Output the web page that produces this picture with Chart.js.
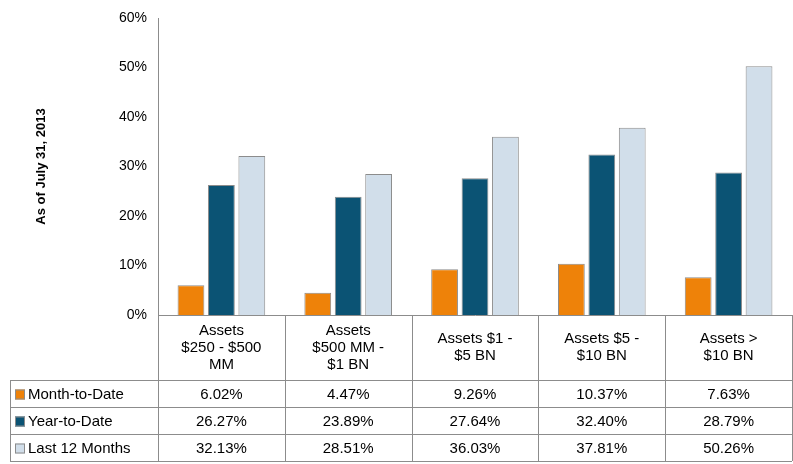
<!DOCTYPE html>
<html><head><meta charset="utf-8">
<script src="https://cdn.jsdelivr.net/npm/chart.js@4"></script>
<style>html,body{margin:0;padding:0;background:#fff}#wrap{width:793px;height:464px}</style>
</head><body><div id="wrap"><canvas id="c"></canvas></div>
<script>
const categories = [['Assets', '$250 - $500', 'MM'], ['Assets', '$500 MM -', '$1 BN'], ['Assets $1 -', '$5 BN'], ['Assets $5 -', '$10 BN'], ['Assets >', '$10 BN']];
const seriesNames = ['Month-to-Date', 'Year-to-Date', 'Last 12 Months'];
const monthToDate = [6.02, 4.47, 9.26, 10.37, 7.63];
const yearToDate = [26.27, 23.89, 27.64, 32.40, 28.79];
const last12Months = [32.13, 28.51, 36.03, 37.81, 50.26];
const colors = ['#EE8209', '#0B5374', '#D1DEEA'];
const FONT = '"Liberation Sans", Arial, sans-serif';

const tablePlugin = {
  id: 'table',
  afterDraw(chart) {
    const ctx = chart.ctx, a = chart.chartArea, x = chart.scales.x;
    const rows = [monthToDate, yearToDate, last12Months];
    const top = a.bottom, labelBottom = 380, rowH = 27, left = 10;
    const step = (a.right - a.left) / categories.length;
    ctx.save();
    // rotated axis title
    ctx.translate(41, (a.top + a.bottom) / 2);
    ctx.rotate(-Math.PI / 2);
    ctx.font = 'bold 13px ' + FONT; ctx.fillStyle = '#000';
    ctx.textAlign = 'center'; ctx.textBaseline = 'middle';
    ctx.fillText('As of July 31, 2013', 0, 0);
    ctx.setTransform(chart.currentDevicePixelRatio, 0, 0, chart.currentDevicePixelRatio, 0, 0);
    ctx.strokeStyle = '#8c8c8c'; ctx.lineWidth = 1;
    ctx.beginPath();
    for (let i = 0; i <= categories.length; i++) {
      const px = Math.round(a.left + i * step) + 0.5;
      ctx.moveTo(px, top); ctx.lineTo(px, labelBottom + rowH * 3);
    }
    ctx.moveTo(left + 0.5, labelBottom); ctx.lineTo(left + 0.5, labelBottom + rowH * 3);
    for (let r = 0; r <= 3; r++) {
      const py = labelBottom + r * rowH + 0.5;
      ctx.moveTo(left, py); ctx.lineTo(a.right, py);
    }
    ctx.stroke();
    ctx.fillStyle = '#000'; ctx.font = '15px ' + FONT;
    ctx.textAlign = 'center'; ctx.textBaseline = 'middle';
    categories.forEach((lines, i) => {
      const cx = x.getPixelForValue(i);
      const lh = 17, y0 = (top + labelBottom) / 2 - (lines.length - 1) * lh / 2;
      lines.forEach((t, j) => ctx.fillText(t, cx, y0 + j * lh));
    });
    rows.forEach((vals, r) => {
      const cy = labelBottom + r * rowH + rowH / 2 + 1;
      ctx.textAlign = 'center';
      vals.forEach((v, i) => ctx.fillText(v.toFixed(2) + '%', x.getPixelForValue(i), cy));
      ctx.fillStyle = colors[r]; ctx.strokeStyle = '#8c8c8c';
      ctx.fillRect(15, cy - 5, 10, 10); ctx.strokeRect(15.5, cy - 4.5, 9, 9);
      ctx.fillStyle = '#000'; ctx.textAlign = 'left';
      ctx.fillText(seriesNames[r], 28, cy);
    });
    ctx.restore();
  }
};

new Chart(document.getElementById('c'), {
  type: 'bar',
  data: {
    labels: categories.map(c => c.join(' ')),
    datasets: [monthToDate, yearToDate, last12Months].map((d, i) => ({
      label: seriesNames[i], data: d, backgroundColor: colors[i],
      borderColor: '#8c8c8c', borderWidth: 1,
      categoryPercentage: 0.72, barPercentage: 0.88
    }))
  },
  options: {
    responsive: true, maintainAspectRatio: false, animation: false,
    layout: { padding: { top: 18, bottom: 141, right: 1 } },
    plugins: { legend: { display: false }, tooltip: { enabled: false } },
    scales: {
      x: {
        ticks: { display: false },
        grid: { display: false },
        border: { color: '#8c8c8c' }
      },
      y: {
        min: 0, max: 60,
        afterFit(s) { s.width = 158; },
        ticks: { stepSize: 10, callback: v => v + '%', color: '#000', font: { family: FONT, size: 14 } },
        grid: { display: false, drawTicks: true },
        border: { color: '#8c8c8c' }
      }
    }
  },
  plugins: [tablePlugin]
});
</script></body></html>
